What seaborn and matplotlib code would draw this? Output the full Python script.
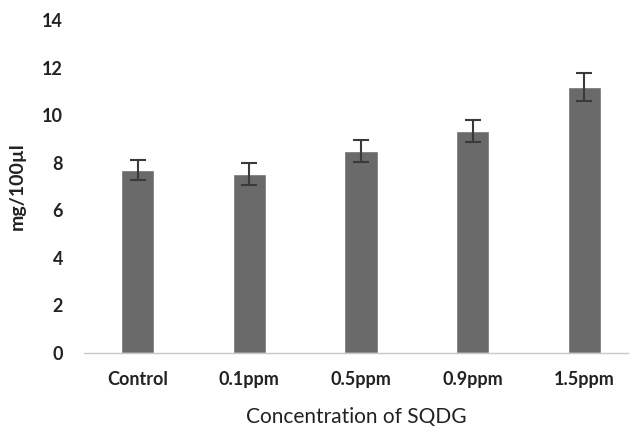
import pandas as pd
import matplotlib
matplotlib.use("Agg")
import matplotlib.pyplot as plt
import seaborn as sns

# values
groups = ['Control', '0.1ppm', '0.5ppm', '0.9ppm', '1.5ppm']
means = [7.68, 7.52, 8.48, 9.32, 11.18]
errors = [0.42, 0.45, 0.47, 0.47, 0.58]
y_ticks = [0, 2, 4, 6, 8, 10, 12, 14]

df = pd.DataFrame({'group': groups, 'value': means, 'err': errors})

sns.set_style("white")
plt.rcParams['font.family'] = ['Lato', 'DejaVu Sans']

fig = plt.figure(figsize=(6.3, 4.34), dpi=100)
ax = fig.add_axes([84 / 630, 81 / 434, 544 / 630, 333 / 434])

sns.barplot(data=df, x='group', y='value', color='#6a6a6a', width=0.3,
            saturation=1, errorbar=None, ax=ax)
ax.errorbar(range(len(groups)), df['value'], yerr=df['err'], fmt='none',
            ecolor='#3a3a3a', elinewidth=1.5, capsize=6, capthick=1.5)

ax.set_xlim(-0.48, 4.39)
ax.set_ylim(0, 14)
ax.set_yticks(y_ticks)
ax.set_yticklabels([str(t) for t in y_ticks], fontsize=13, fontweight='bold', color='#222222')
ax.set_xticks(range(len(groups)))
ax.set_xticklabels(groups, fontsize=13, fontweight='bold', color='#222222')
ax.tick_params(axis='y', length=0, pad=15)
ax.tick_params(axis='x', length=0, pad=13)

ax.set_ylabel('mg/100µl', fontsize=14, fontweight='bold', color='#222222', labelpad=12)
ax.set_xlabel('Concentration of SQDG', fontsize=15, color='#222222', labelpad=14)

for s in ['top', 'right', 'left']:
    ax.spines[s].set_visible(False)
ax.spines['bottom'].set_color('#c8c8c8')
ax.spines['bottom'].set_linewidth(1)

fig.savefig('out.png', dpi=100)
